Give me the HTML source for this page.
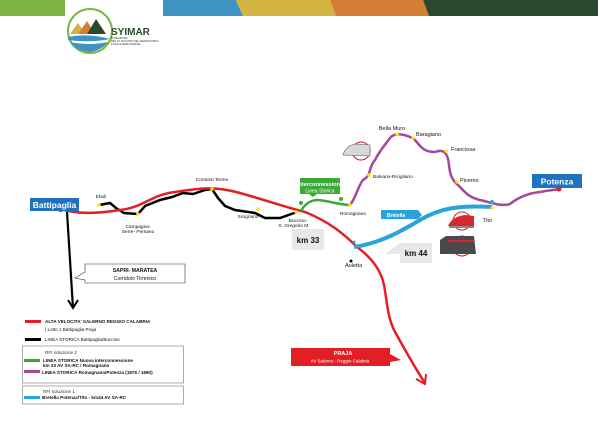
<!DOCTYPE html>
<html><head><meta charset="utf-8"><style>
html,body{margin:0;padding:0;background:#fff;}
svg{display:block;font-family:"Liberation Sans",sans-serif;}
</style></head><body>
<svg width="600" height="423" viewBox="0 0 600 423">
<rect x="0" y="0" width="65" height="16" fill="#7cb443"/>
<polygon points="163,0 236,0 243,16 163,16" fill="#3e93c2"/>
<polygon points="236,0 330,0 336,16 243,16" fill="#d4b440"/>
<polygon points="330,0 423,0 429,16 336,16" fill="#d57f36"/>
<polygon points="423,0 598,0 598,16 429,16" fill="#2b4a2d"/>
<!-- logo -->
<circle cx="90" cy="31" r="22" fill="none" stroke="#7cb443" stroke-width="2"/>
<polygon points="70,34 78,23 86,34" fill="#d4b440"/>
<polygon points="78,34 87,21 95,34" fill="#d57f36"/>
<polygon points="87,34 96,19 106,34" fill="#2b4a2d"/>
<path d="M68,37 Q88,33 110,39 Q90,43 68,40Z" fill="#3e93c2"/>
<path d="M70,42 Q90,46 108,42 Q100,52 88,52 Q76,50 70,42Z" fill="#3e93c2"/>
<text x="111" y="35" font-size="10" font-weight="bold" fill="#2b4a2d">SYIMAR</text>
<text x="111" y="39" font-size="2.5" fill="#333">FONDAZIONE</text>
<text x="111" y="42" font-size="2.5" fill="#333">PER LO SVILUPPO DEL MEZZOGIORNO</text>
<text x="111" y="45" font-size="2.5" fill="#333">E DELLE AREE INTERNE</text>
<!-- black historic line -->
<polyline points="99,205 110,203 116,208 124,213 138,214 145,206 160,200 172,197 183,193 193,194 205,190 212,189 218,198 225,206 235,210 255,213 265,218 280,218 297,212" fill="none" stroke="#000" stroke-width="2.5"/>
<path d="M67,212 L73,308" stroke="#000" stroke-width="2.2" fill="none"/>
<path d="M68,300 L73,308 L78,300" stroke="#000" stroke-width="2" fill="none"/>
<!-- red AV -->
<path d="M61,209 C80,215 100,213 120,210 C145,207 150,195 175,192 C200,188 215,186 240,193 C265,200 285,207 305,212 C330,222 345,235 357,247 C372,258 381,270 384,285 C387,300 387,315 394,330 C405,350 415,368 425,383" fill="none" stroke="#e31e24" stroke-width="2.5"/>
<path d="M416,379 L425,384 L426,374" fill="none" stroke="#e31e24" stroke-width="2"/>
<circle cx="61" cy="209" r="3" fill="#e31e24"/>
<!-- green -->
<path d="M301,211 C305,204 310,200 318,200 C330,201 340,205 350,205" fill="none" stroke="#3aa935" stroke-width="2.5"/>
<!-- purple -->
<path d="M350,205 C356,198 358,186 363,180 C372,175 368,168 375,160 C380,150 385,145 390,138 C395,132 405,134 414,139 C420,145 422,152 435,152 C445,148 448,155 449,165 C450,175 452,180 458,185 C465,192 468,197 480,200 C490,202 500,207 510,204 C520,196 530,193 540,192 C550,190 555,190 559,189" fill="none" stroke="#a3489b" stroke-width="2.5"/>
<!-- blue -->
<path d="M354,247 C380,243 400,232 420,220 C440,208 460,205 492,207" fill="none" stroke="#28a3dc" stroke-width="4"/>
<g fill="#ffe600">
<circle cx="99" cy="205" r="1.8"/><circle cx="138" cy="214" r="1.8"/><circle cx="212" cy="189" r="1.8"/><circle cx="258" cy="209" r="1.8"/><circle cx="296" cy="212" r="1.8"/><circle cx="350" cy="205" r="1.8"/><circle cx="369" cy="175" r="1.8"/><circle cx="397" cy="134" r="1.8"/><circle cx="413" cy="138" r="1.8"/><circle cx="446" cy="151" r="1.8"/><circle cx="457" cy="182" r="1.8"/><circle cx="492" cy="208" r="1.8"/>
</g>
<circle cx="559" cy="189" r="2.5" fill="#e31e24"/>
<circle cx="351" cy="261" r="1.5" fill="#000"/>
<g fill="#28a3dc"><circle cx="492" cy="202" r="2"/><circle cx="354" cy="242" r="1.5"/></g>
<g fill="#3aa935"><circle cx="301" cy="203" r="2"/><circle cx="341" cy="199" r="2"/></g>
<!-- labels -->
<rect x="30" y="198" width="49" height="13" fill="#1e73be"/>
<text x="54.5" y="208" font-size="8.5" font-weight="bold" fill="#fff" text-anchor="middle">Battipaglia</text>
<rect x="532" y="174" width="50" height="14" fill="#1e73be"/>
<text x="557" y="184.5" font-size="8.5" font-weight="bold" fill="#fff" text-anchor="middle">Potenza</text>
<rect x="300" y="178" width="40" height="16" fill="#3aa935"/>
<polygon points="309,194 313,197 317,194" fill="#3aa935"/>
<text x="320" y="186" font-size="5.6" font-weight="bold" fill="#fff" text-anchor="middle">Interconnessione</text>
<text x="320" y="192.5" font-size="5" fill="#fff" text-anchor="middle">Linea Storica</text>
<polygon points="381,210 418,210 422,215 418,219 381,219" fill="#28a3dc"/>
<text x="396" y="217" font-size="5" font-weight="bold" fill="#fff" text-anchor="middle">Bretella</text>
<rect x="292" y="229" width="32" height="21" fill="#e8e8e8"/>
<text x="308" y="243" font-size="8" font-weight="bold" fill="#111" text-anchor="middle">km 33</text>
<polygon points="385,254 400,243 432,243 432,263 400,263 400,254" fill="#e8e8e8"/>
<text x="416" y="256" font-size="8" font-weight="bold" fill="#111" text-anchor="middle">km 44</text>
<g font-size="4.8" fill="#111">
<text x="101" y="198" text-anchor="middle">Eboli</text>
<text x="138" y="228" text-anchor="middle">Campagna-</text><text x="138" y="233" text-anchor="middle">Serre- Persano</text>
<text x="212" y="181" text-anchor="middle">Contursi Terme</text>
<text x="248" y="218" text-anchor="middle">Sicignano</text>
<text x="298" y="222" text-anchor="middle">Buccino-</text><text x="294" y="227" text-anchor="middle">S. Gregorio M.</text>
<text x="353" y="215" text-anchor="middle">Romagnano</text>
<text x="373" y="178">Balvano-Ricigliano</text>
<text x="392" y="130" font-size="5.5" text-anchor="middle">Bella Muro</text>
<text x="416" y="136" font-size="5.5">Baragiano</text>
<text x="451" y="151" font-size="5.5">Franciosa</text>
<text x="460" y="182" font-size="5.5">Picerno</text>
<text x="483" y="222" font-size="5.5">Tito</text>
<text x="345" y="267" font-size="5.5">Auletta</text>
</g>
<!-- trains -->
<circle cx="361" cy="151" r="9" fill="#fff" stroke="#c8202a" stroke-width="1"/>
<path d="M343,155 Q346,145 356,144 L370,145 L370,156 Z" fill="#d8d8d8" stroke="#555" stroke-width="0.6"/>
<circle cx="462" cy="221" r="9" fill="#fff" stroke="#c8202a" stroke-width="1"/>
<path d="M448,226 Q452,216 466,215 L474,216 L474,227 Z" fill="#d7282f"/>
<rect x="449" y="226" width="25" height="2" fill="#888"/>
<circle cx="462" cy="246" r="10" fill="#fff" stroke="#c8202a" stroke-width="1"/>
<path d="M440,240 L446,236 L474,236 L476,254 L440,254 Z" fill="#4a4a4a"/>
<rect x="448" y="240" width="26" height="2" fill="#d7282f"/>
<!-- SAPRI -->
<polygon points="75,278 85,272 85,264 185,264 185,283 85,283 85,280" fill="#fff" stroke="#333" stroke-width="0.6"/>
<text x="135" y="272" font-size="5.2" font-weight="bold" fill="#111" text-anchor="middle">SAPRI- MARATEA</text>
<text x="135" y="280" font-size="5.2" fill="#111" text-anchor="middle">Corridoio Tirrenico</text>
<!-- PRAJA -->
<polygon points="291,348 390,348 390,354 401,360 390,362 390,366 291,366" fill="#e31e24"/>
<text x="343" y="355" font-size="5.5" font-weight="bold" fill="#fff" text-anchor="middle">PRAJA</text>
<text x="340" y="362.5" font-size="4.5" fill="#fff" text-anchor="middle">AV Salerno - Reggio Calabria</text>
<!-- legend -->
<rect x="25" y="320" width="16" height="3" fill="#e31e24"/>
<text x="45" y="323" font-size="4.6" font-weight="bold" fill="#111">ALTA VELOCITA' SALERNO REGGIO CALABRIA</text>
<text x="45" y="331" font-size="4.6" fill="#111">| Lotto 1 Battipaglia Praja</text>
<rect x="25" y="338" width="16" height="3" fill="#000"/>
<text x="45" y="341" font-size="4.6" fill="#111">LINEA STORICA Battipaglia/Buccino</text>
<rect x="22.5" y="346" width="161" height="37" fill="none" stroke="#777" stroke-width="0.6"/>
<text x="45" y="354" font-size="4.6" fill="#333">RFI soluzione 2</text>
<rect x="24" y="359" width="16" height="3" fill="#3aa935"/>
<text x="43" y="362" font-size="4.6" font-weight="bold" fill="#111">LINEA STORICA Nuova interconnessione</text>
<text x="43" y="367" font-size="4.6" font-weight="bold" fill="#111">km 33 AV SA-RC / Romagnano</text>
<rect x="24" y="370" width="16" height="3" fill="#a3489b"/>
<text x="42" y="374" font-size="4.6" font-weight="bold" fill="#111">LINEA STORICA Romagnano/Potenza (1876 / 1880)</text>
<rect x="22.5" y="386" width="161" height="18" fill="none" stroke="#777" stroke-width="0.6"/>
<text x="43" y="393" font-size="4.6" fill="#333">RFI soluzione 1</text>
<rect x="24" y="396" width="16" height="3" fill="#28a3dc"/>
<text x="42" y="399" font-size="4.6" font-weight="bold" fill="#111">Bretella Potenza/Tito - km44 AV SA-RC</text>
</svg>
</body></html>
